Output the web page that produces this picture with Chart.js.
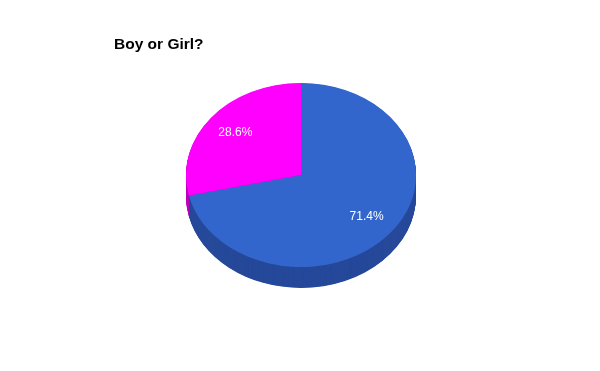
<!DOCTYPE html>
<html>
<head>
<meta charset="utf-8">
<style>
  html, body { margin: 0; padding: 0; background: #fff; }
  #chart { display: block; }
</style>
<script src="https://cdn.jsdelivr.net/npm/chart.js@4"></script>
</head>
<body>
<canvas id="chart" width="600" height="371"></canvas>
<script>
const titleText = 'Boy or Girl?'
const labels = ['Boy', 'Girl']
const values = [5, 2]
const colors = ['#3366cc', '#ff00ff']
const sideColors = ['#26499a', '#bb00bb']

const tilt = 0.8    // vertical squash of the pie
const depth = 21    // thickness of the 3d side

function ellipse(ctx, cx, cy) {
  ctx.translate(cx, cy)
  ctx.scale(1, tilt)
  ctx.translate(-cx, -cy)
}

const pie3d = {
  id: 'pie3d',
  beforeDatasetsDraw(chart) {
    const ctx = chart.ctx
    const arcs = chart.getDatasetMeta(0).data
    // side wall: stack darker copies downwards
    for (let d = depth; d > 0; d -= 0.5) {
      ctx.save()
      ctx.translate(0, d)
      ellipse(ctx, arcs[0].x, arcs[0].y)
      arcs.forEach((a, i) => {
        ctx.beginPath()
        ctx.moveTo(a.x, a.y)
        ctx.arc(a.x, a.y, a.outerRadius, a.startAngle, a.endAngle)
        ctx.closePath()
        ctx.fillStyle = sideColors[i]
        ctx.fill()
      })
      ctx.restore()
    }
    ctx.save()
    ellipse(ctx, arcs[0].x, arcs[0].y)
  },
  afterDatasetsDraw(chart) {
    const ctx = chart.ctx
    ctx.restore()
    const arcs = chart.getDatasetMeta(0).data
    const total = values.reduce((s, v) => s + v, 0)
    ctx.save()
    ctx.font = '12px "Liberation Sans", Arial, sans-serif'
    ctx.fillStyle = '#ffffff'
    ctx.textAlign = 'center'
    ctx.textBaseline = 'middle'
    arcs.forEach((a, i) => {
      const mid = (a.startAngle + a.endAngle) / 2
      const r = a.outerRadius * 0.73
      const x = a.x + Math.cos(mid) * r
      const y = a.y + Math.sin(mid) * r * tilt
      ctx.fillText((values[i] / total * 100).toFixed(1) + '%', x, y)
    })
    ctx.restore()
  },
  afterDraw(chart) {
    const ctx = chart.ctx
    ctx.save()
    ctx.font = 'bold 15.5px "Liberation Sans", Arial, sans-serif'
    ctx.fillStyle = '#000000'
    ctx.textAlign = 'left'
    ctx.textBaseline = 'alphabetic'
    ctx.fillText(titleText, 114, 49)
    ctx.restore()
  }
}

const ctx = document.getElementById('chart')
new Chart(ctx, {
  type: 'pie',
  data: {
    labels: labels,
    datasets: [{
      data: values,
      backgroundColor: colors,
      borderWidth: 0
    }]
  },
  options: {
    responsive: false,
    animation: false,
    layout: {
      padding: { left: 186, right: 184, top: 60, bottom: 81 }
    },
    plugins: {
      legend: { display: false },
      tooltip: { enabled: false },
      title: { display: false }
    }
  },
  plugins: [pie3d]
})
</script>
</body>
</html>
